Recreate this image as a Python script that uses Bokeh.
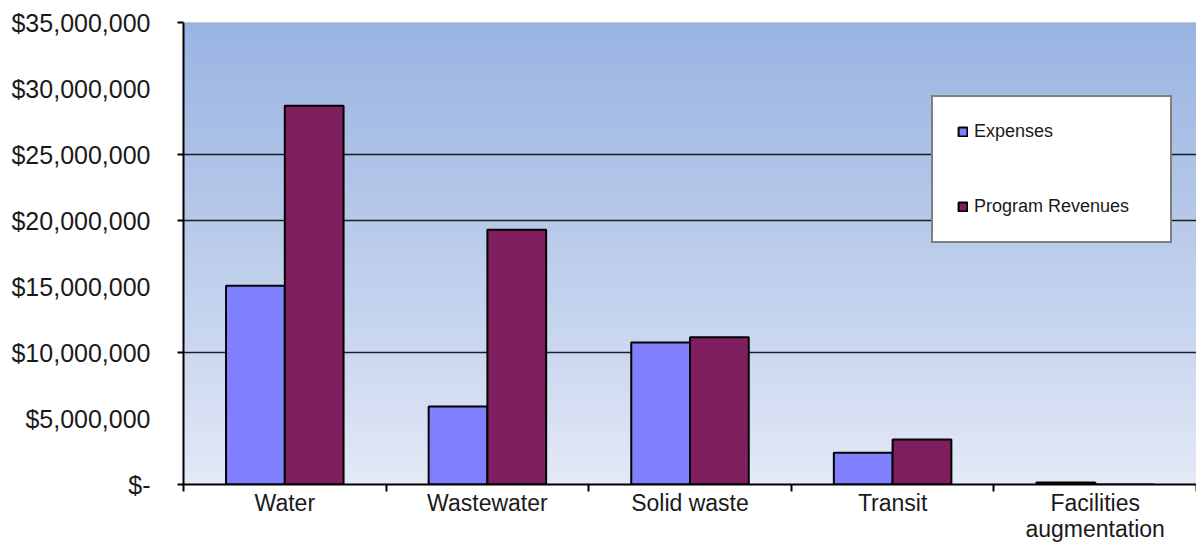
import numpy as np
from bokeh.plotting import figure
from bokeh.models import ColumnDataSource, FixedTicker, CustomJSTickFormatter, Range1d, Span
from bokeh.transform import dodge
from bokeh.embed import file_html
from bokeh.resources import INLINE

categories = ["Water", "Wastewater", "Solid waste", "Transit", "Facilities\naugmentation"]
expenses = [15_050_000, 5_900_000, 10_750_000, 2_400_000, 150_000]
program_revenues = [28_700_000, 19_300_000, 11_150_000, 3_400_000, 0]
y_tick_values = [0, 5_000_000, 10_000_000, 15_000_000, 20_000_000, 25_000_000, 30_000_000, 35_000_000]

n = len(categories)
centers = [i + 0.5 for i in range(n)]
src = ColumnDataSource(dict(x=centers, exp=expenses, rev=program_revenues))

FONT = "Liberation Sans"
TXT = "#1a1a1a"

p = figure(width=1196, height=544, x_range=Range1d(0, n), y_range=Range1d(0, y_tick_values[-1]),
           output_backend="svg", toolbar_location=None,
           min_border_left=183, min_border_top=22, min_border_bottom=60, min_border_right=0)
p.background_fill_color = "white"
p.border_fill_color = "white"
p.outline_line_color = None

# gradient plot-area background
rows = 256
t = np.linspace(0, 1, rows) ** 0.9
top = np.array([154, 180, 226])
bot = np.array([229, 234, 247])
cols = bot + (top - bot) * t[:, None]
img = np.zeros((rows, 2), dtype=np.uint32)
view = img.view(dtype=np.uint8).reshape((rows, 2, 4))
view[:, :, 0] = cols[:, 0][:, None]
view[:, :, 1] = cols[:, 1][:, None]
view[:, :, 2] = cols[:, 2][:, None]
view[:, :, 3] = 255
p.image_rgba(image=[img], x=0, y=0, dw=n, dh=y_tick_values[-1], level="image")

p.add_layout(Span(location=y_tick_values[-1], dimension="width", line_color="#a8a8a8", line_width=1.5))

bw = 0.29
p.vbar(x=dodge("x", -bw / 2, range=p.x_range), top="exp", width=bw, source=src,
       fill_color="#8080FF", line_color="black", line_width=2, legend_label="Expenses")
p.vbar(x=dodge("x", bw / 2, range=p.x_range), top="rev", width=bw, source=src,
       fill_color="#801F5F", line_color="black", line_width=2, legend_label="Program Revenues")

# grid
p.xgrid.visible = False
p.ygrid.ticker = FixedTicker(ticks=[10_000_000, 20_000_000, 25_000_000])
p.ygrid.grid_line_color = "black"
p.ygrid.grid_line_width = 1.6
p.ygrid.grid_line_alpha = 0.85

# y axis
ya = p.yaxis[0]
ya.ticker = FixedTicker(ticks=y_tick_values, minor_ticks=[0, 10_000_000, 20_000_000, 25_000_000, 35_000_000])
ya.formatter = CustomJSTickFormatter(code="return tick == 0 ? '$-' : '$' + tick.toLocaleString('en-US');")
ya.major_tick_out = 0
ya.major_tick_in = 0
ya.minor_tick_out = 6
ya.minor_tick_in = 0
ya.minor_tick_line_color = "black"
ya.minor_tick_line_width = 2
ya.axis_line_color = "black"
ya.axis_line_width = 2
ya.major_label_standoff = 27
ya.major_label_text_font = FONT
ya.major_label_text_font_size = "25px"
ya.major_label_text_color = TXT

# x axis
xa = p.xaxis[0]
xa.ticker = FixedTicker(ticks=centers, minor_ticks=list(range(n + 1)))
xa.major_label_overrides = {c: lab for c, lab in zip(centers, categories)}
xa.major_tick_out = 0
xa.major_tick_in = 0
xa.minor_tick_out = 7
xa.minor_tick_in = 0
xa.minor_tick_line_color = "black"
xa.minor_tick_line_width = 2
xa.axis_line_color = "black"
xa.axis_line_width = 2
xa.major_label_standoff = -2
xa.major_label_text_font = FONT
xa.major_label_text_font_size = "23px"
xa.major_label_text_line_height = 1.0
xa.major_label_text_color = TXT

# legend
lg = p.legend[0]
lg.location = (748, 241)
lg.background_fill_color = "white"
lg.background_fill_alpha = 1
lg.border_line_color = "black"
lg.border_line_width = 2
lg.label_text_font = FONT
lg.label_text_font_size = "18px"
lg.label_text_color = TXT
lg.glyph_width = 11
lg.glyph_height = 11
lg.label_height = 20
lg.label_width = 172
lg.label_standoff = 6
lg.spacing = 54
lg.padding = 24
lg.margin = 0

open("out.html", "w").write(file_html(p, INLINE))
